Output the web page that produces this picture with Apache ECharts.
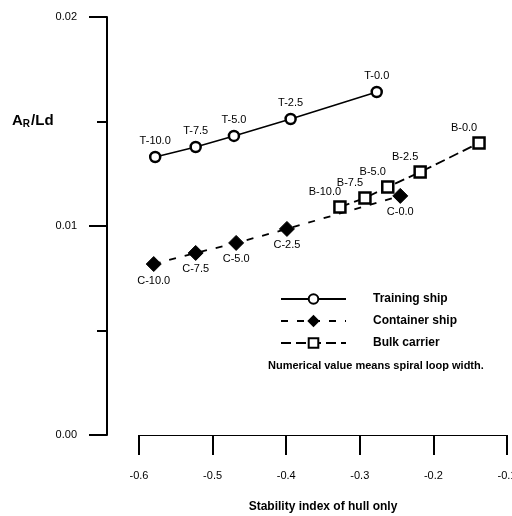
<!DOCTYPE html>
<html>
<head>
<meta charset="utf-8">
<script src="https://cdn.jsdelivr.net/npm/echarts@6/dist/echarts.min.js"></script>
<style>
html, body { margin: 0; padding: 0; background: #fff; }
#chart { width: 512px; height: 516px; }
</style>
</head>
<body>
<div id="chart"></div>
<script>
// values
var trainingNames = ['T-10.0', 'T-7.5', 'T-5.0', 'T-2.5', 'T-0.0'];
var trainingX = [-0.578, -0.523, -0.471, -0.394, -0.277];
var trainingY = [0.0133, 0.01378, 0.01431, 0.01512, 0.01641];

var containerNames = ['C-10.0', 'C-7.5', 'C-5.0', 'C-2.5', 'C-0.0'];
var containerX = [-0.580, -0.523, -0.468, -0.399, -0.245];
var containerY = [0.00818, 0.00871, 0.00919, 0.00986, 0.01144];

var bulkNames = ['B-10.0', 'B-7.5', 'B-5.0', 'B-2.5', 'B-0.0'];
var bulkX = [-0.327, -0.293, -0.262, -0.218, -0.138];
var bulkY = [0.01091, 0.01134, 0.01187, 0.01258, 0.01397];

var font = 'Liberation Sans, Arial, sans-serif';

function pts(names, xs, ys) {
	var out = [];
	for (var i = 0; i < xs.length; i++) {
		out.push({ name: names[i], value: [xs[i], ys[i]] });
	}
	return out;
}

var chart = echarts.init(document.getElementById('chart'));
var option = {
	animation: false,
	backgroundColor: '#fff',
	grid: { left: 139, right: 5, top: 17, bottom: 81, outerBoundsMode: 'none' },
	xAxis: {
		type: 'value',
		min: -0.6, max: -0.1, interval: 0.1,
		splitLine: { show: false },
		axisLine: { show: true, lineStyle: { color: '#000', width: 1 } },
		axisTick: { show: true, length: 20, lineStyle: { color: '#000', width: 2 } },
		axisLabel: {
			margin: 35, color: '#000', fontSize: 11, fontFamily: font,
			showMaxLabel: true,
			formatter: function (v) { return v.toFixed(1); }
		},
		name: 'Stability index of hull only',
		nameLocation: 'middle',
		nameGap: 66,
		nameTextStyle: { color: '#000', fontSize: 12, fontWeight: 'bold', fontFamily: font }
	},
	yAxis: {
		type: 'value',
		min: 0, max: 0.02, interval: 0.01,
		offset: 32,
		splitLine: { show: false },
		axisLine: { show: true, lineStyle: { color: '#000', width: 2 } },
		axisTick: { show: true, length: 18, lineStyle: { color: '#000', width: 2 } },
		minorTick: { show: true, splitNumber: 2, length: 10, lineStyle: { color: '#000', width: 2 } },
		minorSplitLine: { show: false },
		axisLabel: {
			margin: 30, color: '#000', fontSize: 11, fontFamily: font,
			formatter: function (v) { return v.toFixed(2); }
		}
	},
	legend: {
		orient: 'vertical',
		left: 275, top: 288,
		itemWidth: 65, itemHeight: 12, itemGap: 10,
		textStyle: { color: '#000', fontSize: 12, fontWeight: 'bold', fontFamily: font, padding: [0, 0, 0, 22] },
		data: ['Training ship', 'Container ship', 'Bulk carrier']
	},
	graphic: [
		{
			type: 'text', left: 12, top: 113,
			style: {
				text: '{a|A}{s|R}{a|/Ld}',
				rich: {
					a: { fontSize: 15, fontWeight: 'bold', fontFamily: font, fill: '#000' },
					s: { fontSize: 10, fontWeight: 'bold', fontFamily: font, fill: '#000', padding: [7, 1, 0, 0] }
				}
			}
		},
		{
			type: 'text', left: 268, top: 360,
			style: { text: 'Numerical value means spiral loop width.', fontSize: 11, fontWeight: 'bold', fontFamily: font, fill: '#000' }
		}
	],
	series: [
		{
			name: 'Training ship',
			type: 'line',
			data: pts(trainingNames, trainingX, trainingY),
			symbol: 'circle', symbolSize: 10,
			itemStyle: { color: '#fff', borderColor: '#000', borderWidth: 2.5 },
			lineStyle: { color: '#000', width: 1.6, type: 'solid' },
			label: { show: true, position: 'top', distance: 4, formatter: '{b}', color: '#000', fontSize: 11, fontFamily: font }
		},
		{
			name: 'Container ship',
			type: 'line',
			data: pts(containerNames, containerX, containerY),
			symbol: 'diamond', symbolSize: 15,
			itemStyle: { color: '#000', borderColor: '#000', borderWidth: 1 },
			lineStyle: { color: '#000', width: 1.8, type: [7, 9] },
			label: { show: true, position: 'bottom', distance: 3, formatter: '{b}', color: '#000', fontSize: 11, fontFamily: font }
		},
		{
			name: 'Bulk carrier',
			type: 'line',
			data: pts(bulkNames, bulkX, bulkY),
			symbol: 'rect', symbolSize: 11,
			itemStyle: { color: '#fff', borderColor: '#000', borderWidth: 2.5 },
			lineStyle: { color: '#000', width: 1.8, type: [10, 5] },
			label: { show: true, position: 'top', distance: 3, offset: [-15, 0], formatter: '{b}', color: '#000', fontSize: 11, fontFamily: font }
		}
	]
};
chart.setOption(option);
</script>
</body>
</html>
